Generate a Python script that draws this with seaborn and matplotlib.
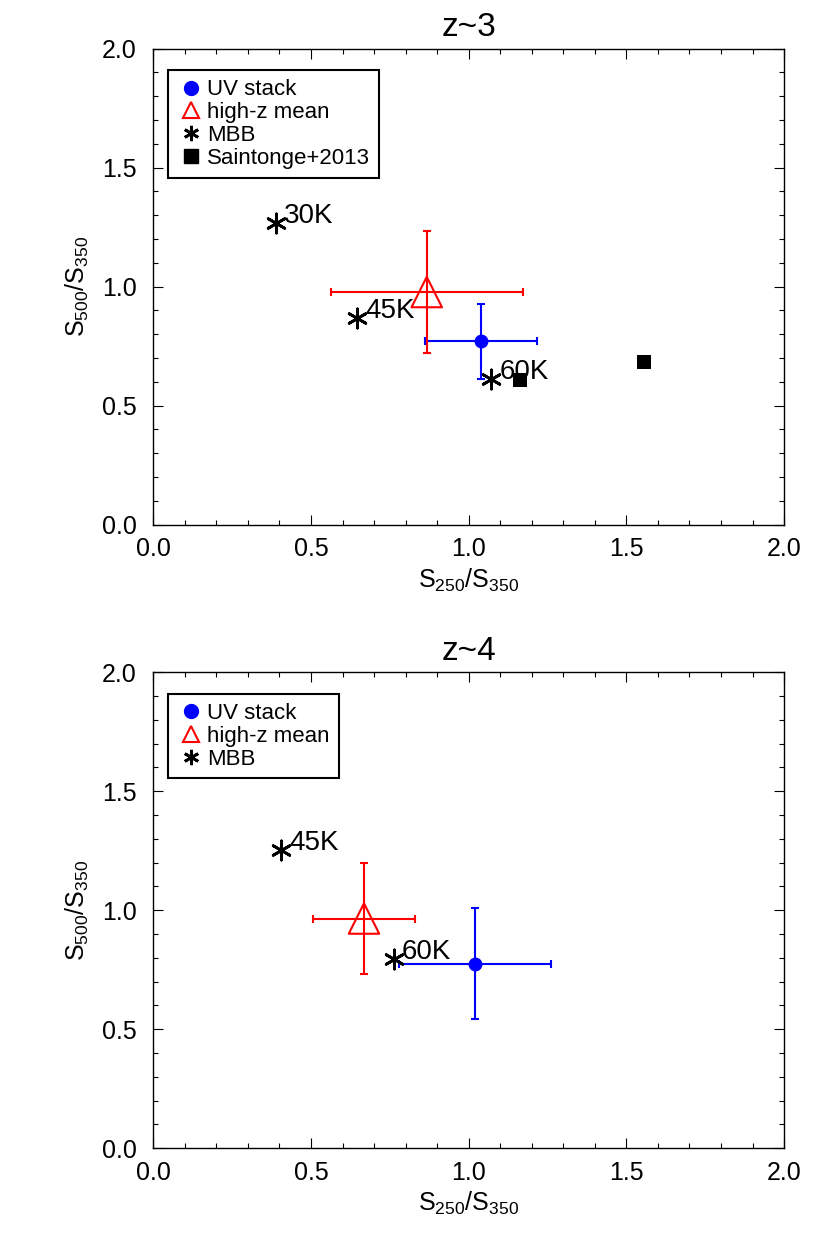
import seaborn as sns
import matplotlib.pyplot as plt
from matplotlib.lines import Line2D
from matplotlib.ticker import MultipleLocator, FormatStrFormatter

# panel titles
panels = ["z~3", "z~4"]

# UV stack (blue circle with error bars)
uv_x = [1.04, 1.02]
uv_xerr = [0.178, 0.242]
uv_y = [0.770, 0.776]
uv_yerr = [0.157, 0.232]

# high-z mean (red open triangle with error bars)
hz_x = [0.867, 0.668]
hz_xerr = [0.305, 0.163]
hz_y = [0.977, 0.965]
hz_yerr = [0.258, 0.235]

# MBB model points with temperature labels
mbb_x = [[0.388, 0.647, 1.071], [0.404, 0.762]]
mbb_y = [[1.266, 0.870, 0.613], [1.252, 0.797]]
mbb_labels = [["30K", "45K", "60K"], ["45K", "60K"]]

# Saintonge+2013 (only in z~3 panel)
saint_x = [1.163, 1.556]
saint_y = [0.608, 0.681]

sns.set_theme(style="ticks")
plt.rcParams["font.family"] = ["Liberation Sans", "DejaVu Sans"]
plt.rcParams["mathtext.fontset"] = "custom"
plt.rcParams["mathtext.rm"] = "Liberation Sans"
plt.rcParams["text.color"] = "black"
plt.rcParams["axes.labelcolor"] = "black"

fig = plt.figure(figsize=(8.3, 12.46), dpi=100)
positions = [
    [0.1847, 0.579, 0.760, 0.382],
    [0.1847, 0.0785, 0.760, 0.382],
]

asterisk = (6, 2, 0)

for i, title in enumerate(panels):
    ax = fig.add_axes(positions[i])

    # error bars first
    ax.errorbar(uv_x[i], uv_y[i], xerr=uv_xerr[i], yerr=uv_yerr[i],
                fmt="none", ecolor="blue", elinewidth=1.5, capsize=3, capthick=1.5)
    ax.errorbar(hz_x[i], hz_y[i], xerr=hz_xerr[i], yerr=hz_yerr[i],
                fmt="none", ecolor="red", elinewidth=1.5, capsize=3, capthick=1.5)

    sns.scatterplot(x=[uv_x[i]], y=[uv_y[i]], ax=ax, marker="o", s=100,
                    color="blue", edgecolor="blue", linewidth=0, zorder=3)
    sns.scatterplot(x=[hz_x[i]], y=[hz_y[i]], ax=ax, marker="^", s=480,
                    facecolor="none", edgecolor="red", linewidth=1.5, zorder=3)
    sns.scatterplot(x=mbb_x[i], y=mbb_y[i], ax=ax, marker=asterisk, s=190,
                    color="black", linewidth=2.0, zorder=4)
    for x, y, lab in zip(mbb_x[i], mbb_y[i], mbb_labels[i]):
        ax.annotate(lab, (x, y), xytext=(6, 0), textcoords="offset points",
                    ha="left", va="baseline", fontsize=20, color="black")

    handles = [
        Line2D([], [], ls="none", marker="o", ms=10, color="blue"),
        Line2D([], [], ls="none", marker="^", ms=11, mfc="none", mec="red", mew=1.5),
        Line2D([], [], ls="none", marker=asterisk, ms=11, color="black", mew=2.0),
    ]
    labels = ["UV stack", "high-z mean", "MBB"]
    if i == 0:
        sns.scatterplot(x=saint_x, y=saint_y, ax=ax, marker="s", s=110,
                        color="black", linewidth=0, zorder=3)
        handles.append(Line2D([], [], ls="none", marker="s", ms=10, color="black"))
        labels.append("Saintonge+2013")

    leg = ax.legend(handles, labels, loc="upper left", bbox_to_anchor=(0.024, 0.954),
                    borderaxespad=0, fontsize=16, frameon=True, fancybox=False,
                    edgecolor="black", framealpha=1, labelspacing=0.08,
                    borderpad=0.4, handlelength=1.2, handletextpad=0.15)
    leg.get_frame().set_linewidth(1.5)
    for t in leg.get_texts():
        t.set_color("black")

    ax.set_xlim(0, 2)
    ax.set_ylim(0, 2)
    ax.xaxis.set_major_locator(MultipleLocator(0.5))
    ax.xaxis.set_minor_locator(MultipleLocator(0.1))
    ax.yaxis.set_major_locator(MultipleLocator(0.5))
    ax.yaxis.set_minor_locator(MultipleLocator(0.1))
    ax.xaxis.set_major_formatter(FormatStrFormatter("%.1f"))
    ax.yaxis.set_major_formatter(FormatStrFormatter("%.1f"))
    ax.tick_params(which="both", direction="in", top=True, right=True,
                   color="black", width=0.8, labelsize=18, labelcolor="black")
    ax.tick_params(axis="x", which="major", length=7, pad=9)
    ax.tick_params(axis="y", which="major", length=7, pad=12)
    ax.tick_params(which="minor", length=3.5)
    for sp in ax.spines.values():
        sp.set_color("black")
        sp.set_linewidth(1.0)

    ax.set_xlabel(r"$\mathregular{S_{250}/S_{350}}$", fontsize=18, labelpad=4, color="black")
    ax.set_ylabel(r"$\mathregular{S_{500}/S_{350}}$", fontsize=18, labelpad=8, color="black")
    ax.set_title(title, fontsize=24, pad=9, color="black")

fig.savefig("out.png", dpi=100)
